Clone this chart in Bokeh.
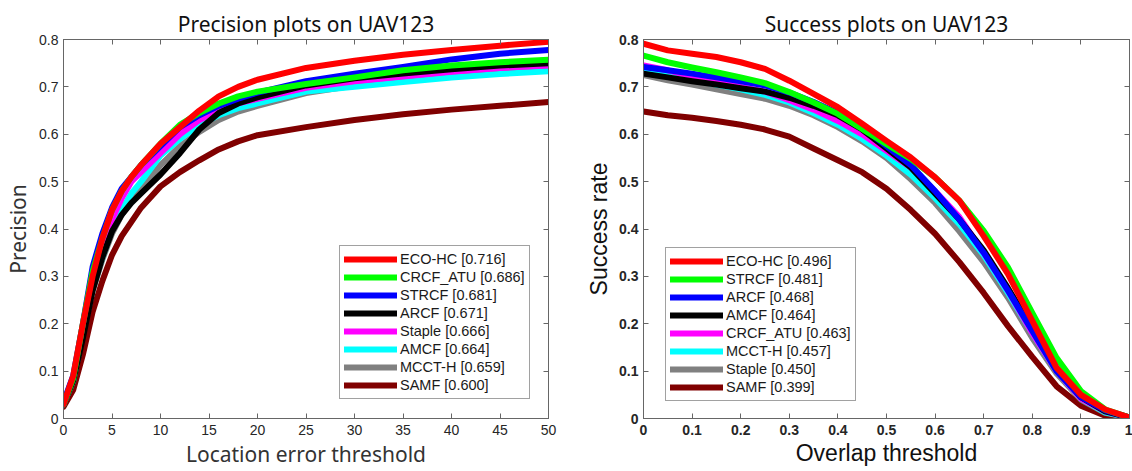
from bokeh.plotting import figure
from bokeh.layouts import row
from bokeh.models import (Legend, LegendItem, LinearAxis, FixedTicker,
                          CustomJSTickFormatter, Range1d)
from bokeh.embed import file_html
from bokeh.resources import INLINE

# ---------------- data: precision plot ----------------
prec_x = [0, 1, 2, 3, 4, 5, 6, 7, 8, 10, 12, 14, 16, 18, 20, 25, 30, 35, 40, 45, 50]
prec_names = ["ECO-HC [0.716]", "CRCF_ATU [0.686]", "STRCF [0.681]", "ARCF [0.671]",
              "Staple [0.666]", "AMCF [0.664]", "MCCT-H [0.659]", "SAMF [0.600]"]
prec_colors = ["#ff0000", "#00ff00", "#0000ff", "#000000",
               "#ff00ff", "#00ffff", "#808080", "#800000"]
prec_eco = [0.03, 0.09, 0.20, 0.30, 0.38, 0.44, 0.48, 0.51, 0.535, 0.58, 0.615, 0.65, 0.68, 0.70, 0.715, 0.74, 0.755, 0.768, 0.778, 0.787, 0.795]
prec_crcf = [0.03, 0.085, 0.20, 0.31, 0.38, 0.44, 0.48, 0.51, 0.535, 0.58, 0.62, 0.645, 0.665, 0.68, 0.69, 0.706, 0.72, 0.735, 0.745, 0.752, 0.757]
prec_strcf = [0.035, 0.09, 0.20, 0.32, 0.39, 0.445, 0.485, 0.51, 0.535, 0.575, 0.615, 0.64, 0.66, 0.675, 0.688, 0.712, 0.728, 0.742, 0.758, 0.77, 0.778]
prec_arcf = [0.03, 0.08, 0.17, 0.27, 0.34, 0.395, 0.43, 0.455, 0.475, 0.515, 0.56, 0.61, 0.645, 0.665, 0.678, 0.703, 0.718, 0.728, 0.737, 0.745, 0.75]
prec_staple = [0.03, 0.085, 0.19, 0.30, 0.37, 0.42, 0.465, 0.50, 0.52, 0.56, 0.60, 0.63, 0.65, 0.665, 0.675, 0.698, 0.712, 0.722, 0.732, 0.74, 0.745]
prec_amcf = [0.03, 0.08, 0.18, 0.28, 0.34, 0.40, 0.44, 0.475, 0.50, 0.555, 0.59, 0.62, 0.64, 0.655, 0.665, 0.69, 0.70, 0.71, 0.72, 0.727, 0.733]
prec_mccth = [0.03, 0.08, 0.18, 0.27, 0.335, 0.39, 0.43, 0.46, 0.485, 0.535, 0.575, 0.605, 0.63, 0.648, 0.66, 0.687, 0.703, 0.716, 0.726, 0.734, 0.74]
prec_samf = [0.025, 0.06, 0.135, 0.225, 0.29, 0.345, 0.385, 0.415, 0.445, 0.49, 0.52, 0.545, 0.568, 0.585, 0.598, 0.615, 0.63, 0.642, 0.652, 0.66, 0.668]

# ---------------- data: success plot ----------------
succ_x = [0, 0.05, 0.1, 0.15, 0.2, 0.25, 0.3, 0.35, 0.4, 0.45, 0.5, 0.55, 0.6, 0.65, 0.7, 0.75, 0.8, 0.85, 0.9, 0.95, 1.0]
succ_names = ["ECO-HC [0.496]", "STRCF [0.481]", "ARCF [0.468]", "AMCF [0.464]",
              "CRCF_ATU [0.463]", "MCCT-H [0.457]", "Staple [0.450]", "SAMF [0.399]"]
succ_colors = ["#ff0000", "#00ff00", "#0000ff", "#000000",
               "#ff00ff", "#00ffff", "#808080", "#800000"]
succ_eco = [0.791, 0.777, 0.77, 0.763, 0.752, 0.738, 0.713, 0.685, 0.657, 0.622, 0.586, 0.551, 0.509, 0.46, 0.385, 0.305, 0.206, 0.107, 0.05, 0.019, 0.002]
succ_strcf = [0.766, 0.752, 0.741, 0.731, 0.72, 0.708, 0.689, 0.667, 0.643, 0.611, 0.579, 0.548, 0.509, 0.46, 0.396, 0.319, 0.223, 0.128, 0.058, 0.019, 0.002]
succ_arcf = [0.742, 0.735, 0.728, 0.72, 0.712, 0.703, 0.688, 0.668, 0.645, 0.615, 0.575, 0.535, 0.48, 0.42, 0.35, 0.27, 0.185, 0.10, 0.045, 0.017, 0.002]
succ_amcf = [0.728, 0.72, 0.712, 0.705, 0.697, 0.69, 0.677, 0.66, 0.64, 0.61, 0.57, 0.53, 0.475, 0.42, 0.355, 0.275, 0.19, 0.105, 0.045, 0.015, 0.002]
succ_crcf = [0.745, 0.735, 0.722, 0.71, 0.70, 0.69, 0.672, 0.652, 0.628, 0.60, 0.565, 0.53, 0.48, 0.425, 0.35, 0.27, 0.18, 0.10, 0.042, 0.015, 0.002]
succ_mccth = [0.735, 0.725, 0.715, 0.705, 0.695, 0.683, 0.667, 0.645, 0.62, 0.59, 0.555, 0.515, 0.465, 0.41, 0.345, 0.265, 0.18, 0.10, 0.042, 0.013, 0.002]
succ_staple = [0.725, 0.714, 0.705, 0.695, 0.685, 0.675, 0.66, 0.64, 0.615, 0.585, 0.55, 0.505, 0.455, 0.395, 0.33, 0.255, 0.17, 0.095, 0.04, 0.012, 0.002]
succ_samf = [0.648, 0.64, 0.635, 0.628, 0.62, 0.61, 0.595, 0.57, 0.545, 0.52, 0.485, 0.44, 0.39, 0.33, 0.265, 0.195, 0.13, 0.068, 0.027, 0.006, 0.001]

prec_xticks = [0, 5, 10, 15, 20, 25, 30, 35, 40, 45, 50]
succ_xticks = [0, 0.1, 0.2, 0.3, 0.4, 0.5, 0.6, 0.7, 0.8, 0.9, 1.0]
yticks = [0, 0.1, 0.2, 0.3, 0.4, 0.5, 0.6, 0.7, 0.8]

FMT = "return String(Number(tick.toFixed(2)));"
FRAME = "#666666"


def style_axis(ax, ticks, show_labels, font=None, style=None, size=None, color=None):
    ax.ticker = FixedTicker(ticks=ticks)
    ax.major_tick_in = 5
    ax.major_tick_out = 0
    ax.minor_tick_in = 0
    ax.minor_tick_out = 0
    ax.axis_line_color = FRAME
    ax.major_tick_line_color = FRAME
    if show_labels:
        ax.formatter = CustomJSTickFormatter(code=FMT)
        ax.major_label_text_font = font
        ax.major_label_text_font_style = style
        ax.major_label_text_font_size = size
        ax.major_label_text_color = color
    else:
        ax.formatter = CustomJSTickFormatter(code="return '';")
        ax.major_label_text_font_size = "1px"
        ax.major_label_standoff = 0


def build(title, xs, series, names, colors, xmax, xticks, xlabel, ylabel,
          width, bl, br, leg_loc, lab_font, lab_size, lab_color, tick_style,
          xlab_standoff):
    p = figure(width=width, height=471, x_range=Range1d(0, xmax), y_range=Range1d(0, 0.8),
               output_backend="svg", toolbar_location=None,
               min_border_left=bl, min_border_right=br, min_border_top=39, min_border_bottom=53)
    p.title.text = title
    p.title.align = "center"
    p.title.text_font = "Noto Sans"
    p.title.text_font_size = "21px"
    p.title.text_font_style = "normal"
    p.title.text_color = "#111111"
    p.title.standoff = 4
    p.outline_line_color = FRAME
    p.xgrid.visible = False
    p.ygrid.visible = False
    p.background_fill_color = "white"
    p.border_fill_color = "white"

    style_axis(p.xaxis[0], xticks, True, "Liberation Sans", tick_style, "14px", "#262626")
    style_axis(p.yaxis[0], yticks, True, "Liberation Sans", tick_style, "14px", "#262626")
    p.xaxis[0].major_label_standoff = 6
    p.yaxis[0].major_label_standoff = 5
    p.xaxis[0].axis_label = xlabel
    p.yaxis[0].axis_label = ylabel
    for ax in (p.xaxis[0], p.yaxis[0]):
        ax.axis_label_text_font = lab_font
        ax.axis_label_text_font_size = lab_size
        ax.axis_label_text_font_style = "normal"
        ax.axis_label_text_color = lab_color
    p.xaxis[0].axis_label_standoff = xlab_standoff
    p.yaxis[0].axis_label_standoff = 4

    top = LinearAxis()
    style_axis(top, xticks, False)
    p.add_layout(top, "above")
    right = LinearAxis()
    style_axis(right, yticks, False)
    p.add_layout(right, "right")

    rends = []
    for ys, c in zip(series, colors):
        r = p.line(xs, ys, line_color=c, line_width=6, line_join="round", line_cap="round")
        rends.append(r)
    # draw best method on top
    p.renderers = list(reversed(p.renderers))

    items = [LegendItem(label=n, renderers=[r]) for n, r in zip(names, rends)]
    leg = Legend(items=items, location=leg_loc, margin=0, padding=4, spacing=0,
                 glyph_width=53, glyph_height=18, label_height=18, label_standoff=3,
                 label_text_font="Liberation Sans", label_text_font_size="14.5px",
                 label_text_color="#1a1a1a", border_line_color="#444444",
                 border_line_width=1, background_fill_alpha=1.0)
    p.add_layout(leg, "center")
    return p


p1 = build("Precision plots on UAV123", prec_x,
           [prec_eco, prec_crcf, prec_strcf, prec_arcf, prec_staple, prec_amcf, prec_mccth, prec_samf],
           prec_names, prec_colors, 50, prec_xticks,
           "Location error threshold", "Precision",
           580, 63, 32, (276, 19), "Noto Sans", "21px", "#333333", "normal", 2)

p2 = build("Success plots on UAV123", succ_x,
           [succ_eco, succ_strcf, succ_arcf, succ_amcf, succ_crcf, succ_mccth, succ_staple, succ_samf],
           succ_names, succ_colors, 1.0, succ_xticks,
           "Overlap threshold", "Success rate",
           552, 63, 3, (22, 17), "Liberation Sans", "23px", "#111111", "bold", 2)

layout = row(p1, p2)
open("out.html", "w").write(file_html(layout, INLINE))
